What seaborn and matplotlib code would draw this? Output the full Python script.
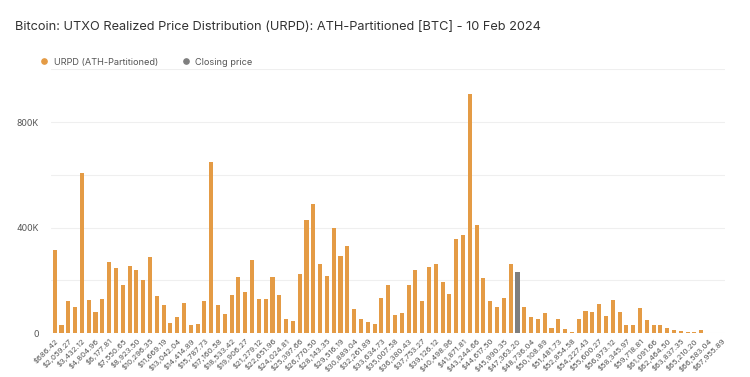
import pandas as pd
import seaborn as sns
import matplotlib.pyplot as plt
from matplotlib.lines import Line2D
from matplotlib.ticker import MultipleLocator, FuncFormatter

# URPD supply per price bucket (BTC)
urpd = [315000, 30000, 122000, 100000, 608000, 124000, 80000, 128000, 268000, 248000,
        181000, 255000, 239000, 200000, 288000, 139000, 106000, 38000, 60000, 113000,
        30000, 33000, 121000, 648000, 106000, 71000, 144000, 212000, 154000, 277000,
        130000, 130000, 211000, 143000, 52000, 45000, 224000, 430000, 490000, 263000,
        216000, 400000, 291000, 329000, 91000, 52000, 40000, 35000, 131000, 183000,
        67000, 77000, 183000, 239000, 122000, 249000, 263000, 192000, 148000, 356000,
        372000, 907000, 411000, 210000, 122000, 100000, 134000, 263000, 230000, 100000,
        60000, 53000, 75000, 20000, 53000, 14000, 4000, 52000, 82000, 78000,
        110000, 64000, 126000, 80000, 29000, 32000, 94000, 49000, 29000, 29000,
        19000, 10000, 6000, 4000, 3000, 11000, 1500, 1500, 1500]
closing_bin = 68  # bucket holding the closing price

tick_labels = ["$686.42", "$2,059.27", "$3,432.12", "$4,804.96", "$6,177.81", "$7,550.65",
               "$8,923.50", "$10,296.35", "$11,669.19", "$13,042.04", "$14,414.89",
               "$15,787.73", "$17,160.58", "$18,533.42", "$19,906.27", "$21,279.12",
               "$22,651.96", "$24,024.81", "$25,397.66", "$26,770.50", "$28,143.35",
               "$29,516.19", "$30,889.04", "$32,261.89", "$33,634.73", "$35,007.58",
               "$36,380.43", "$37,753.27", "$39,126.12", "$40,498.96", "$41,871.81",
               "$43,244.66", "$44,617.50", "$45,990.35", "$47,363.20", "$48,736.04",
               "$50,108.89", "$51,481.73", "$52,854.58", "$54,227.43", "$55,600.27",
               "$56,973.12", "$58,345.97", "$59,718.81", "$61,091.66", "$62,464.50",
               "$63,837.35", "$65,210.20", "$66,583.04", "$67,955.89"]

orange = "#E49B45"
grey = "#7F7F7F"

df = pd.DataFrame({"bin": range(len(urpd)), "value": urpd})
df["series"] = ["Closing price" if i == closing_bin else "URPD (ATH-Partitioned)"
                for i in df["bin"]]

sns.set_style("white")
plt.rcParams["font.family"] = ["Inter", "DejaVu Sans"]

fig = plt.figure(figsize=(7.5, 3.77), dpi=100)
ax = fig.add_axes([0.0684, 0.1167, 0.8983, 0.6993])

sns.barplot(data=df, x="bin", y="value", hue="series",
            palette={"URPD (ATH-Partitioned)": orange, "Closing price": grey},
            dodge=False, width=0.6, legend=False, ax=ax, saturation=1, linewidth=0)

ax.set_xlim(-0.5, len(urpd) - 0.5)
ax.set_ylim(0, 1000000)
ax.yaxis.set_major_locator(MultipleLocator(200000))
ax.yaxis.set_major_formatter(FuncFormatter(
    lambda v, p: "0" if v == 0 else (f"{int(v / 1000)}K" if v % 400000 == 0 and v < 1000000 else "")))
ax.grid(axis="y", color="#EFEFEF", linewidth=0.8)
ax.set_axisbelow(True)
for s in ax.spines.values():
    s.set_visible(False)

ax.set_xticks(range(0, len(urpd), 2))
ax.set_xticklabels(tick_labels, rotation=45, ha="right", rotation_mode="anchor",
                   fontsize=5.6, color="#555555")
ax.tick_params(axis="y", labelsize=6.3, labelcolor="#555555", length=0, pad=9)
ax.tick_params(axis="x", length=0, pad=3)
ax.set_xlabel("")
ax.set_ylabel("")

fig.text(0.02, 0.928, "Bitcoin: UTXO Realized Price Distribution (URPD): ATH-Partitioned [BTC] - 10 Feb 2024",
         fontsize=9.2, color="#333333", va="center")

handles = [Line2D([], [], marker="o", linestyle="", color=orange, markersize=3.8),
           Line2D([], [], marker="o", linestyle="", color=grey, markersize=3.8)]
fig.legend(handles, ["URPD (ATH-Partitioned)", "Closing price"], loc="center left",
           bbox_to_anchor=(0.036, 0.835), ncol=2, frameon=False, fontsize=6.6,
           handletextpad=0.05, columnspacing=2.0, labelcolor="#555555")

fig.savefig("out.png", dpi=100)
